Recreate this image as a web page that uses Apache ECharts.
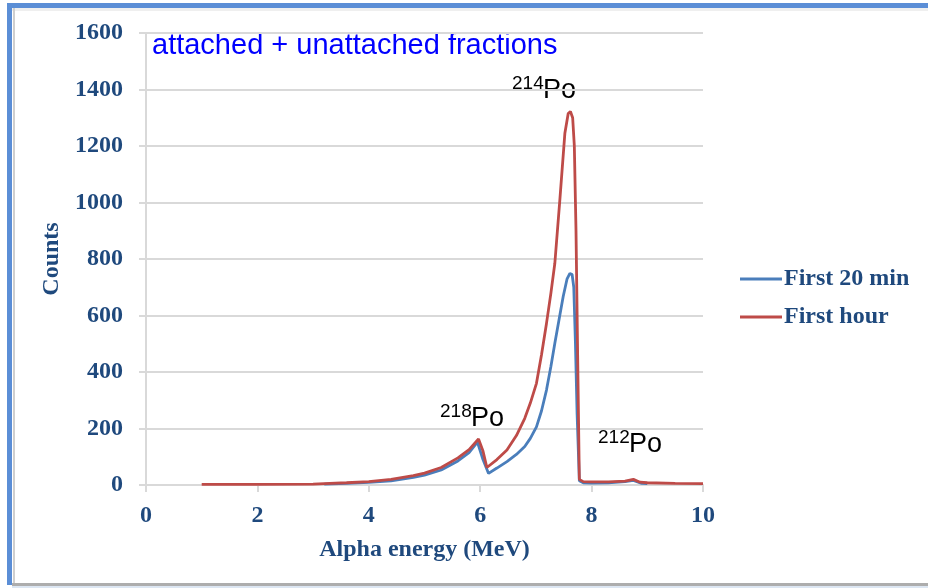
<!DOCTYPE html>
<html>
<head>
<meta charset="utf-8">
<script src="https://cdn.jsdelivr.net/npm/echarts@6/dist/echarts.min.js"></script>
<style>
html,body{margin:0;padding:0;background:#fff;}
#chart{width:928px;height:588px;}
</style>
</head>
<body>
<div id="chart"></div>
<script>
// ---- data ----
const seriesNames = ['First 20 min', 'First hour'];
const xTicks = [0, 2, 4, 6, 8, 10];
const yTicks = [0, 200, 400, 600, 800, 1000, 1200, 1400, 1600];

const energy20 = [3.2, 3.6, 4.0, 4.4, 4.8, 5.0, 5.3, 5.6, 5.8, 5.95, 6.05, 6.15, 6.3, 6.48, 6.65, 6.8, 6.9, 7.01, 7.1, 7.19, 7.27, 7.34, 7.42, 7.49, 7.56, 7.61, 7.65, 7.68, 7.71, 7.74, 7.78, 7.85, 8.0, 8.3, 8.6, 8.75, 8.9, 9.0];
const counts20 = [3, 6, 9, 15, 27, 35, 53, 85, 115, 152, 90, 41, 60, 83, 108, 136, 165, 206, 262, 336, 420, 502, 590, 667, 730, 749, 745, 700, 500, 250, 15, 8, 7, 8, 12, 16, 6, 5];

const energyHour = [1.0, 2.0, 3.0, 3.2, 3.6, 4.0, 4.4, 4.8, 5.0, 5.3, 5.6, 5.8, 5.97, 6.05, 6.12, 6.3, 6.48, 6.65, 6.8, 6.9, 7.01, 7.1, 7.19, 7.27, 7.34, 7.43, 7.52, 7.58, 7.62, 7.66, 7.69, 7.72, 7.75, 7.78, 7.85, 8.0, 8.3, 8.6, 8.75, 8.87, 9.0, 9.5, 10.0];
const countsHour = [2, 2, 3, 5, 8, 12, 20, 33, 42, 62, 96, 125, 163, 120, 62, 90, 124, 175, 236, 290, 360, 460, 572, 680, 785, 1009, 1245, 1315, 1322, 1300, 1200, 900, 450, 20, 12, 11, 11, 14, 20, 10, 8, 6, 5];

const noteText = 'attached + unattached fractions';
const peakLabels = [
  {mass: '214', el: 'Po'},
  {mass: '218', el: 'Po'},
  {mass: '212', el: 'Po'}
];

// ---- chart ----
const axisColor = '#1F497D';
const serif = '"Liberation Serif", "Times New Roman", serif';
const sans = '"Liberation Sans", Arial, sans-serif';
const chart = echarts.init(document.getElementById('chart'));

function pair(xs, ys) { return xs.map((x, i) => [x, ys[i]]); }

const peakPos = [[512, 102], [440, 430], [598, 456]];
const peakGraphics = [];
peakLabels.forEach((p, i) => {
  const [x, yb] = peakPos[i];
  peakGraphics.push({
    type: 'text', left: x, top: yb - 28,
    style: {text: p.mass, font: '19px ' + sans, fill: '#000'}
  });
  peakGraphics.push({
    type: 'text', left: x + 31, top: yb - 25,
    style: {text: p.el, font: '27px ' + sans, fill: '#000'}
  });
});

chart.setOption({
  animation: false,
  backgroundColor: '#fff',
  grid: {left: 146, right: 225, top: 33, bottom: 103, containLabel: false},
  xAxis: {
    type: 'value', min: xTicks[0], max: xTicks[xTicks.length - 1], interval: 2,
    name: 'Alpha energy (MeV)', nameLocation: 'middle', nameGap: 53,
    nameTextStyle: {fontFamily: serif, fontWeight: 'bold', fontSize: 24, color: axisColor},
    axisLine: {show: true, lineStyle: {color: '#D9D9D9', width: 2}},
    axisTick: {show: true, length: 7, lineStyle: {color: '#D9D9D9', width: 2}},
    axisLabel: {margin: 19, fontFamily: serif, fontWeight: 'bold', fontSize: 24, color: axisColor,
                formatter: v => String(v)},
    splitLine: {show: false}
  },
  yAxis: {
    type: 'value', min: yTicks[0], max: yTicks[yTicks.length - 1], interval: 200,
    name: 'Counts', nameLocation: 'middle', nameGap: 76,
    nameTextStyle: {fontFamily: serif, fontWeight: 'bold', fontSize: 24, color: axisColor},
    axisLine: {show: true, lineStyle: {color: '#D9D9D9', width: 2}},
    axisTick: {show: true, length: 7, lineStyle: {color: '#D9D9D9', width: 2}},
    axisLabel: {margin: 23, fontFamily: serif, fontWeight: 'bold', fontSize: 24, color: axisColor,
                formatter: v => String(v)},
    splitLine: {show: true, lineStyle: {color: '#D9D9D9', width: 2}}
  },
  legend: {
    orient: 'vertical', left: 735, top: 262, itemGap: 14,
    itemWidth: 42, itemHeight: 3, icon: 'rect',
    textStyle: {fontFamily: serif, fontWeight: 'bold', fontSize: 24, color: axisColor, padding: [0, 0, 0, -3]},
    data: seriesNames
  },
  series: [
    {name: seriesNames[0], type: 'line', data: pair(energy20, counts20), showSymbol: false,
     lineStyle: {color: '#4A7EBB', width: 2.8}, itemStyle: {color: '#4A7EBB'}},
    {name: seriesNames[1], type: 'line', data: pair(energyHour, countsHour), showSymbol: false,
     lineStyle: {color: '#BE4B48', width: 2.8}, itemStyle: {color: '#BE4B48'}}
  ],
  graphic: [
    // frame
    {type: 'rect', shape: {x: 7, y: 3, width: 921, height: 5}, style: {fill: '#5B8ED6'}},
    {type: 'rect', shape: {x: 7, y: 3, width: 5, height: 582}, style: {fill: '#5B8ED6'}},
    {type: 'rect', shape: {x: 12, y: 8, width: 916, height: 3}, style: {fill: '#EFEFEF'}},
    {type: 'rect', shape: {x: 13, y: 8, width: 2, height: 575}, style: {fill: '#CFCFCF'}},
    {type: 'rect', shape: {x: 12, y: 583, width: 916, height: 3}, style: {fill: '#ADADAD'}},
    {type: 'rect', shape: {x: 12, y: 586, width: 916, height: 2}, style: {fill: '#DCE6F2'}},
    // note
    {type: 'text', left: 152, top: 31, style: {text: noteText, font: '29px ' + sans, fill: '#0000FF'}}
  ].concat(peakGraphics)
});
</script>
</body>
</html>
